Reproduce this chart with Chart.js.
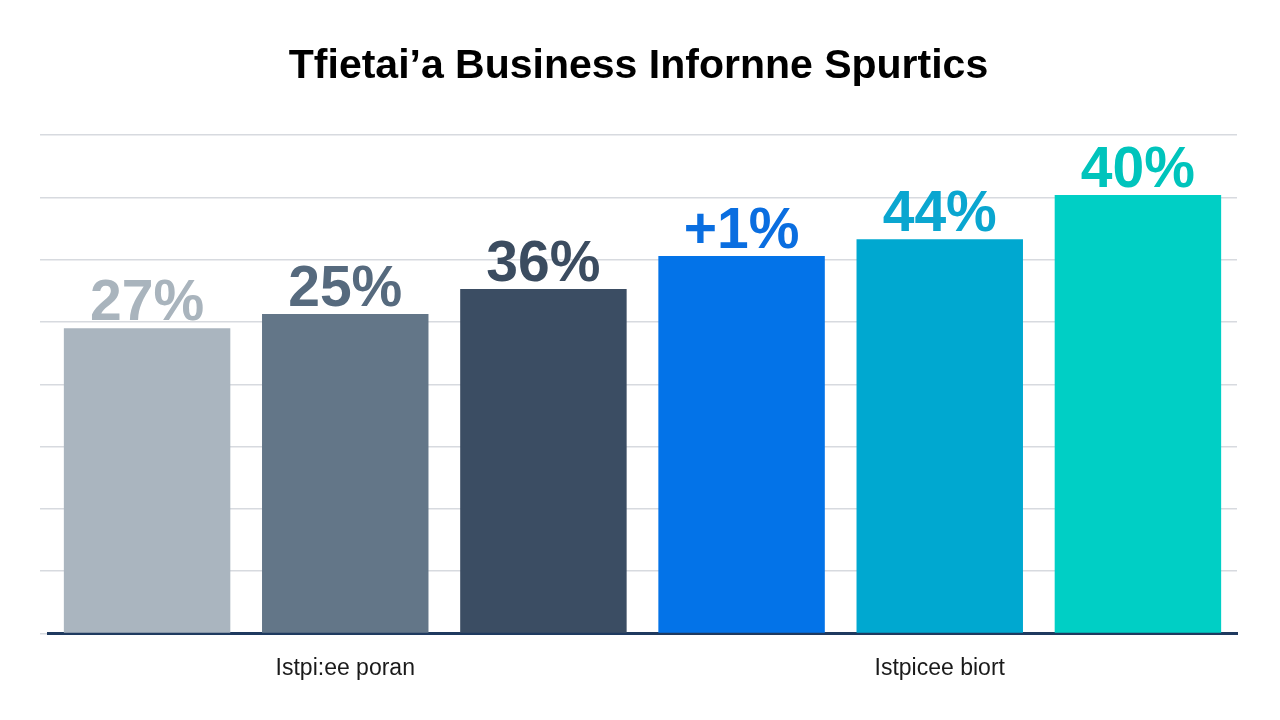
<!DOCTYPE html>
<html>
<head>
<meta charset="utf-8">
<script src="https://cdn.jsdelivr.net/npm/chart.js@4"></script>
<style>
  html, body { margin: 0; padding: 0; background: #ffffff; }
  #wrap { width: 1280px; height: 720px; position: relative; }
</style>
</head>
<body>
<div id="wrap"><canvas id="bars"></canvas></div>
<script>
// Data
const categories = ['', 'Istpi:ee poran', '', '', 'Istpicee biort', ''];
const barValues = [49, 51.3, 55.3, 60.6, 63.3, 70.4];
const valueLabels = ['27%', '25%', '36%', '+1%', '44%', '40%'];
const yMax = 80;
const yStep = 10;

const barColors = ['#aab5bf', '#637688', '#3b4d63', '#0373e8', '#00a8d0', '#00cfc5'];
const labelColors = ['#a9b4bd', '#566a7e', '#3b4c60', '#0a6ee0', '#0aa6d0', '#00c4bc'];

// draw the % labels on top of each bar
const topLabels = {
  id: 'topLabels',
  afterDatasetsDraw(chart) {
    const ctx = chart.ctx;
    const meta = chart.getDatasetMeta(0);
    ctx.save();
    ctx.font = 'bold 57px "Liberation Sans", Arial, sans-serif';
    ctx.textAlign = 'center';
    ctx.textBaseline = 'alphabetic';
    meta.data.forEach((bar, i) => {
      ctx.fillStyle = labelColors[i];
      ctx.fillText(valueLabels[i], bar.x, bar.y - 8);
    });
    ctx.restore();
  }
};

new Chart(document.getElementById('bars'), {
  type: 'bar',
  data: {
    labels: categories,
    datasets: [{
      data: barValues,
      backgroundColor: barColors,
      borderWidth: 0,
      barPercentage: 0.84,
      categoryPercentage: 1
    }]
  },
  options: {
    responsive: true,
    maintainAspectRatio: false,
    animation: false,
    layout: { padding: { top: 12, left: 40, right: 43, bottom: 25 } },
    plugins: {
      legend: { display: false },
      tooltip: { enabled: false },
      title: {
        display: true,
        text: 'Tfietai’a Business Infornne Spurtics',
        color: '#000000',
        font: { family: '"Liberation Sans", Arial, sans-serif', size: 41, weight: 'bold' },
        padding: { top: 30, bottom: 44 }
      }
    },
    scales: {
      x: {
        grid: { display: false },
        border: { display: true, color: '#1f3a5f', width: 3 },
        ticks: {
          autoSkip: false,
          maxRotation: 0,
          padding: 13,
          color: '#1a1a1a',
          font: { family: '"Liberation Sans", Arial, sans-serif', size: 23 }
        }
      },
      y: {
        min: 0,
        max: yMax,
        border: { display: false },
        grid: { color: '#d7dadf', lineWidth: 1.5, tickLength: 8 },
        ticks: { display: false, stepSize: yStep }
      }
    }
  },
  plugins: [topLabels]
});
</script>
</body>
</html>
